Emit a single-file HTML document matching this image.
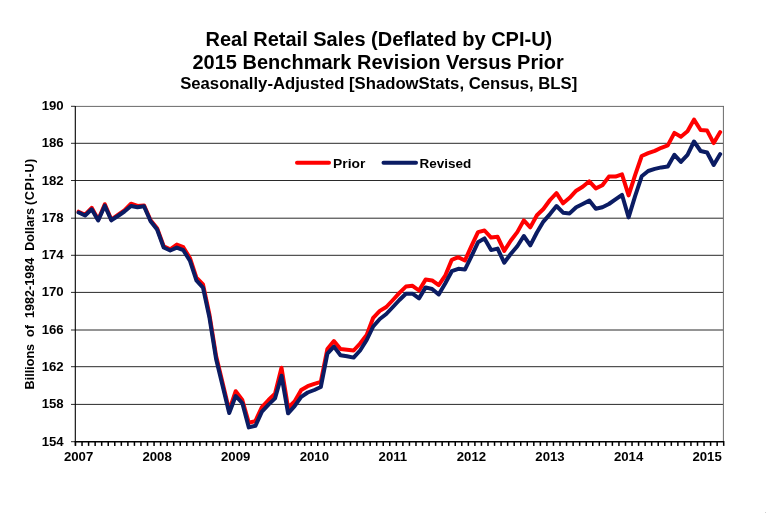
<!DOCTYPE html>
<html><head><meta charset="utf-8"><title>Real Retail Sales</title>
<style>
html,body{margin:0;padding:0;background:#fff;}
svg{display:block;}
text{font-family:"Liberation Sans",Arial,sans-serif;font-weight:bold;fill:#000;}
.t1{font-size:19.4px;}
.t2{font-size:16.2px;}
.lab{font-size:13.2px;}
.g{stroke:#2a2a2a;stroke-width:1;}
.b{stroke:#6e6e6e;stroke-width:1;shape-rendering:crispEdges;fill:none;}
.ax{stroke:#000;stroke-width:1;shape-rendering:crispEdges;}
.ln{fill:none;stroke-width:4;stroke-linejoin:round;stroke-linecap:round;}
</style></head>
<body>
<svg width="766" height="513" viewBox="0 0 766 513">
<rect x="0" y="0" width="766" height="513" fill="#fff"/>
<text x="205.45" y="45.9" class="t1" textLength="346.8" lengthAdjust="spacingAndGlyphs">Real Retail Sales (Deflated by CPI-U)</text>
<text x="192.5" y="69.0" class="t1" textLength="371.3" lengthAdjust="spacingAndGlyphs">2015 Benchmark Revision Versus Prior</text>
<text x="180.15" y="88.6" class="t2" textLength="397.1" lengthAdjust="spacingAndGlyphs">Seasonally-Adjusted [ShadowStats, Census, BLS]</text>
<g>
<line x1="71" y1="106.3" x2="75" y2="106.3" class="g"/>
<line x1="71" y1="143.3" x2="723" y2="143.3" class="g"/>
<line x1="71" y1="180.5" x2="723" y2="180.5" class="g"/>
<line x1="71" y1="218.2" x2="723" y2="218.2" class="g"/>
<line x1="71" y1="255.3" x2="723" y2="255.3" class="g"/>
<line x1="71" y1="292.4" x2="723" y2="292.4" class="g"/>
<line x1="71" y1="330.0" x2="723" y2="330.0" class="g"/>
<line x1="71" y1="366.7" x2="723" y2="366.7" class="g"/>
<line x1="71" y1="404.4" x2="723" y2="404.4" class="g"/>
<line x1="71" y1="441.7" x2="75" y2="441.7" class="g"/>
</g>
<line x1="75" y1="106.4" x2="724" y2="106.4" stroke="#6a6a6a" stroke-width="1"/>
<line x1="723.4" y1="106" x2="723.4" y2="442" stroke="#6a6a6a" stroke-width="1"/>
<line x1="75.3" y1="106" x2="75.3" y2="445.7" stroke="#000" stroke-width="1.1"/>
<line x1="74.8" y1="441.7" x2="724" y2="441.7" stroke="#000" stroke-width="1.5"/>
<g>
<line x1="75.50" y1="441" x2="75.50" y2="445.9" stroke="#000" stroke-width="1.5"/>
<line x1="82.05" y1="441" x2="82.05" y2="445.9" stroke="#000" stroke-width="1.5"/>
<line x1="88.59" y1="441" x2="88.59" y2="445.9" stroke="#000" stroke-width="1.5"/>
<line x1="95.14" y1="441" x2="95.14" y2="445.9" stroke="#000" stroke-width="1.5"/>
<line x1="101.69" y1="441" x2="101.69" y2="445.9" stroke="#000" stroke-width="1.5"/>
<line x1="108.24" y1="441" x2="108.24" y2="445.9" stroke="#000" stroke-width="1.5"/>
<line x1="114.78" y1="441" x2="114.78" y2="445.9" stroke="#000" stroke-width="1.5"/>
<line x1="121.33" y1="441" x2="121.33" y2="445.9" stroke="#000" stroke-width="1.5"/>
<line x1="127.88" y1="441" x2="127.88" y2="445.9" stroke="#000" stroke-width="1.5"/>
<line x1="134.43" y1="441" x2="134.43" y2="445.9" stroke="#000" stroke-width="1.5"/>
<line x1="140.97" y1="441" x2="140.97" y2="445.9" stroke="#000" stroke-width="1.5"/>
<line x1="147.52" y1="441" x2="147.52" y2="445.9" stroke="#000" stroke-width="1.5"/>
<line x1="154.07" y1="441" x2="154.07" y2="445.9" stroke="#000" stroke-width="1.5"/>
<line x1="160.62" y1="441" x2="160.62" y2="445.9" stroke="#000" stroke-width="1.5"/>
<line x1="167.16" y1="441" x2="167.16" y2="445.9" stroke="#000" stroke-width="1.5"/>
<line x1="173.71" y1="441" x2="173.71" y2="445.9" stroke="#000" stroke-width="1.5"/>
<line x1="180.26" y1="441" x2="180.26" y2="445.9" stroke="#000" stroke-width="1.5"/>
<line x1="186.81" y1="441" x2="186.81" y2="445.9" stroke="#000" stroke-width="1.5"/>
<line x1="193.35" y1="441" x2="193.35" y2="445.9" stroke="#000" stroke-width="1.5"/>
<line x1="199.90" y1="441" x2="199.90" y2="445.9" stroke="#000" stroke-width="1.5"/>
<line x1="206.45" y1="441" x2="206.45" y2="445.9" stroke="#000" stroke-width="1.5"/>
<line x1="213.00" y1="441" x2="213.00" y2="445.9" stroke="#000" stroke-width="1.5"/>
<line x1="219.54" y1="441" x2="219.54" y2="445.9" stroke="#000" stroke-width="1.5"/>
<line x1="226.09" y1="441" x2="226.09" y2="445.9" stroke="#000" stroke-width="1.5"/>
<line x1="232.64" y1="441" x2="232.64" y2="445.9" stroke="#000" stroke-width="1.5"/>
<line x1="239.19" y1="441" x2="239.19" y2="445.9" stroke="#000" stroke-width="1.5"/>
<line x1="245.73" y1="441" x2="245.73" y2="445.9" stroke="#000" stroke-width="1.5"/>
<line x1="252.28" y1="441" x2="252.28" y2="445.9" stroke="#000" stroke-width="1.5"/>
<line x1="258.83" y1="441" x2="258.83" y2="445.9" stroke="#000" stroke-width="1.5"/>
<line x1="265.38" y1="441" x2="265.38" y2="445.9" stroke="#000" stroke-width="1.5"/>
<line x1="271.92" y1="441" x2="271.92" y2="445.9" stroke="#000" stroke-width="1.5"/>
<line x1="278.47" y1="441" x2="278.47" y2="445.9" stroke="#000" stroke-width="1.5"/>
<line x1="285.02" y1="441" x2="285.02" y2="445.9" stroke="#000" stroke-width="1.5"/>
<line x1="291.57" y1="441" x2="291.57" y2="445.9" stroke="#000" stroke-width="1.5"/>
<line x1="298.11" y1="441" x2="298.11" y2="445.9" stroke="#000" stroke-width="1.5"/>
<line x1="304.66" y1="441" x2="304.66" y2="445.9" stroke="#000" stroke-width="1.5"/>
<line x1="311.21" y1="441" x2="311.21" y2="445.9" stroke="#000" stroke-width="1.5"/>
<line x1="317.76" y1="441" x2="317.76" y2="445.9" stroke="#000" stroke-width="1.5"/>
<line x1="324.30" y1="441" x2="324.30" y2="445.9" stroke="#000" stroke-width="1.5"/>
<line x1="330.85" y1="441" x2="330.85" y2="445.9" stroke="#000" stroke-width="1.5"/>
<line x1="337.40" y1="441" x2="337.40" y2="445.9" stroke="#000" stroke-width="1.5"/>
<line x1="343.95" y1="441" x2="343.95" y2="445.9" stroke="#000" stroke-width="1.5"/>
<line x1="350.49" y1="441" x2="350.49" y2="445.9" stroke="#000" stroke-width="1.5"/>
<line x1="357.04" y1="441" x2="357.04" y2="445.9" stroke="#000" stroke-width="1.5"/>
<line x1="363.59" y1="441" x2="363.59" y2="445.9" stroke="#000" stroke-width="1.5"/>
<line x1="370.14" y1="441" x2="370.14" y2="445.9" stroke="#000" stroke-width="1.5"/>
<line x1="376.68" y1="441" x2="376.68" y2="445.9" stroke="#000" stroke-width="1.5"/>
<line x1="383.23" y1="441" x2="383.23" y2="445.9" stroke="#000" stroke-width="1.5"/>
<line x1="389.78" y1="441" x2="389.78" y2="445.9" stroke="#000" stroke-width="1.5"/>
<line x1="396.33" y1="441" x2="396.33" y2="445.9" stroke="#000" stroke-width="1.5"/>
<line x1="402.87" y1="441" x2="402.87" y2="445.9" stroke="#000" stroke-width="1.5"/>
<line x1="409.42" y1="441" x2="409.42" y2="445.9" stroke="#000" stroke-width="1.5"/>
<line x1="415.97" y1="441" x2="415.97" y2="445.9" stroke="#000" stroke-width="1.5"/>
<line x1="422.52" y1="441" x2="422.52" y2="445.9" stroke="#000" stroke-width="1.5"/>
<line x1="429.06" y1="441" x2="429.06" y2="445.9" stroke="#000" stroke-width="1.5"/>
<line x1="435.61" y1="441" x2="435.61" y2="445.9" stroke="#000" stroke-width="1.5"/>
<line x1="442.16" y1="441" x2="442.16" y2="445.9" stroke="#000" stroke-width="1.5"/>
<line x1="448.71" y1="441" x2="448.71" y2="445.9" stroke="#000" stroke-width="1.5"/>
<line x1="455.25" y1="441" x2="455.25" y2="445.9" stroke="#000" stroke-width="1.5"/>
<line x1="461.80" y1="441" x2="461.80" y2="445.9" stroke="#000" stroke-width="1.5"/>
<line x1="468.35" y1="441" x2="468.35" y2="445.9" stroke="#000" stroke-width="1.5"/>
<line x1="474.90" y1="441" x2="474.90" y2="445.9" stroke="#000" stroke-width="1.5"/>
<line x1="481.44" y1="441" x2="481.44" y2="445.9" stroke="#000" stroke-width="1.5"/>
<line x1="487.99" y1="441" x2="487.99" y2="445.9" stroke="#000" stroke-width="1.5"/>
<line x1="494.54" y1="441" x2="494.54" y2="445.9" stroke="#000" stroke-width="1.5"/>
<line x1="501.09" y1="441" x2="501.09" y2="445.9" stroke="#000" stroke-width="1.5"/>
<line x1="507.63" y1="441" x2="507.63" y2="445.9" stroke="#000" stroke-width="1.5"/>
<line x1="514.18" y1="441" x2="514.18" y2="445.9" stroke="#000" stroke-width="1.5"/>
<line x1="520.73" y1="441" x2="520.73" y2="445.9" stroke="#000" stroke-width="1.5"/>
<line x1="527.28" y1="441" x2="527.28" y2="445.9" stroke="#000" stroke-width="1.5"/>
<line x1="533.82" y1="441" x2="533.82" y2="445.9" stroke="#000" stroke-width="1.5"/>
<line x1="540.37" y1="441" x2="540.37" y2="445.9" stroke="#000" stroke-width="1.5"/>
<line x1="546.92" y1="441" x2="546.92" y2="445.9" stroke="#000" stroke-width="1.5"/>
<line x1="553.47" y1="441" x2="553.47" y2="445.9" stroke="#000" stroke-width="1.5"/>
<line x1="560.01" y1="441" x2="560.01" y2="445.9" stroke="#000" stroke-width="1.5"/>
<line x1="566.56" y1="441" x2="566.56" y2="445.9" stroke="#000" stroke-width="1.5"/>
<line x1="573.11" y1="441" x2="573.11" y2="445.9" stroke="#000" stroke-width="1.5"/>
<line x1="579.66" y1="441" x2="579.66" y2="445.9" stroke="#000" stroke-width="1.5"/>
<line x1="586.20" y1="441" x2="586.20" y2="445.9" stroke="#000" stroke-width="1.5"/>
<line x1="592.75" y1="441" x2="592.75" y2="445.9" stroke="#000" stroke-width="1.5"/>
<line x1="599.30" y1="441" x2="599.30" y2="445.9" stroke="#000" stroke-width="1.5"/>
<line x1="605.85" y1="441" x2="605.85" y2="445.9" stroke="#000" stroke-width="1.5"/>
<line x1="612.39" y1="441" x2="612.39" y2="445.9" stroke="#000" stroke-width="1.5"/>
<line x1="618.94" y1="441" x2="618.94" y2="445.9" stroke="#000" stroke-width="1.5"/>
<line x1="625.49" y1="441" x2="625.49" y2="445.9" stroke="#000" stroke-width="1.5"/>
<line x1="632.04" y1="441" x2="632.04" y2="445.9" stroke="#000" stroke-width="1.5"/>
<line x1="638.58" y1="441" x2="638.58" y2="445.9" stroke="#000" stroke-width="1.5"/>
<line x1="645.13" y1="441" x2="645.13" y2="445.9" stroke="#000" stroke-width="1.5"/>
<line x1="651.68" y1="441" x2="651.68" y2="445.9" stroke="#000" stroke-width="1.5"/>
<line x1="658.23" y1="441" x2="658.23" y2="445.9" stroke="#000" stroke-width="1.5"/>
<line x1="664.77" y1="441" x2="664.77" y2="445.9" stroke="#000" stroke-width="1.5"/>
<line x1="671.32" y1="441" x2="671.32" y2="445.9" stroke="#000" stroke-width="1.5"/>
<line x1="677.87" y1="441" x2="677.87" y2="445.9" stroke="#000" stroke-width="1.5"/>
<line x1="684.42" y1="441" x2="684.42" y2="445.9" stroke="#000" stroke-width="1.5"/>
<line x1="690.96" y1="441" x2="690.96" y2="445.9" stroke="#000" stroke-width="1.5"/>
<line x1="697.51" y1="441" x2="697.51" y2="445.9" stroke="#000" stroke-width="1.5"/>
<line x1="704.06" y1="441" x2="704.06" y2="445.9" stroke="#000" stroke-width="1.5"/>
<line x1="710.61" y1="441" x2="710.61" y2="445.9" stroke="#000" stroke-width="1.5"/>
<line x1="717.15" y1="441" x2="717.15" y2="445.9" stroke="#000" stroke-width="1.5"/>
<line x1="723.70" y1="441" x2="723.70" y2="445.9" stroke="#000" stroke-width="1.5"/>
</g>
<g>
<text x="63.7" y="110.3" text-anchor="end" class="lab">190</text>
<text x="63.7" y="147.3" text-anchor="end" class="lab">186</text>
<text x="63.7" y="184.5" text-anchor="end" class="lab">182</text>
<text x="63.7" y="222.2" text-anchor="end" class="lab">178</text>
<text x="63.7" y="259.3" text-anchor="end" class="lab">174</text>
<text x="63.7" y="296.4" text-anchor="end" class="lab">170</text>
<text x="63.7" y="334.0" text-anchor="end" class="lab">166</text>
<text x="63.7" y="370.7" text-anchor="end" class="lab">162</text>
<text x="63.7" y="408.4" text-anchor="end" class="lab">158</text>
<text x="63.7" y="445.7" text-anchor="end" class="lab">154</text>
</g>
<g>
<text x="78.6" y="461" text-anchor="middle" class="lab">2007</text>
<text x="157.1" y="461" text-anchor="middle" class="lab">2008</text>
<text x="235.7" y="461" text-anchor="middle" class="lab">2009</text>
<text x="314.3" y="461" text-anchor="middle" class="lab">2010</text>
<text x="392.9" y="461" text-anchor="middle" class="lab">2011</text>
<text x="471.4" y="461" text-anchor="middle" class="lab">2012</text>
<text x="550.0" y="461" text-anchor="middle" class="lab">2013</text>
<text x="628.6" y="461" text-anchor="middle" class="lab">2014</text>
<text x="707.1" y="461" text-anchor="middle" class="lab">2015</text>
</g>
<text transform="translate(34,389.4) rotate(-90)" class="lab" style="font-size:12.6px;word-spacing:3.5px">Billions of 1982-1984 Dollars<tspan dx="-4.6" style="letter-spacing:0.62px"> (CPI-U)</tspan></text>
<polyline class="ln" stroke="#ff0000" points="78.6,211.7 85.1,214.7 91.7,207.8 98.2,219.8 104.8,204.2 111.3,219.6 117.9,215.0 124.4,210.3 131.0,203.7 137.5,205.9 144.0,205.4 150.6,220.3 157.1,228.3 163.7,246.3 170.2,249.3 176.8,244.6 183.3,247.2 189.9,258.0 196.4,277.6 203.0,284.5 209.5,315.0 216.1,356.0 222.6,383.0 229.2,410.5 235.7,391.2 242.3,400.0 248.8,422.7 255.4,421.1 261.9,407.0 268.5,400.0 275.0,393.7 281.5,367.8 288.1,407.8 294.6,401.5 301.2,390.0 307.7,386.2 314.3,383.8 320.8,381.8 327.4,349.0 333.9,341.1 340.5,349.0 347.0,349.8 353.6,350.5 360.1,343.5 366.7,335.0 373.2,317.8 379.8,310.9 386.3,307.0 392.9,300.0 399.4,292.9 405.9,286.6 412.5,285.8 419.0,290.5 425.6,279.6 432.1,280.4 438.7,285.1 445.2,275.7 451.8,259.8 458.3,257.2 464.9,260.5 471.4,246.2 478.0,232.1 484.5,230.5 491.1,237.6 497.6,236.8 504.2,250.9 510.7,240.7 517.3,232.1 523.8,220.4 530.3,227.4 536.9,215.3 543.4,209.0 550.0,200.0 556.5,193.1 563.1,203.3 569.6,197.8 576.2,190.7 582.7,186.8 589.3,181.3 595.8,188.4 602.4,185.2 608.9,176.6 615.5,176.6 622.0,174.3 628.6,195.4 635.1,175.1 641.7,156.0 648.2,153.2 654.8,150.9 661.3,147.8 667.8,145.4 674.4,132.9 680.9,136.8 687.5,131.3 694.0,119.6 700.6,130.0 707.1,130.6 713.7,143.1 720.2,132.1"/>
<polyline class="ln" stroke="#0b1c63" points="78.6,212.5 85.1,215.5 91.7,209.3 98.2,220.5 104.8,205.7 111.3,220.3 117.9,216.0 124.4,211.5 131.0,206.0 137.5,207.3 144.0,206.3 150.6,221.3 157.1,229.5 163.7,247.5 170.2,250.5 176.8,247.6 183.3,250.2 189.9,260.7 196.4,280.3 203.0,287.6 209.5,317.9 216.1,359.0 222.6,385.9 229.2,413.0 235.7,396.0 242.3,403.1 248.8,427.4 255.4,425.8 261.9,411.7 268.5,404.6 275.0,398.4 281.5,375.7 288.1,413.3 294.6,406.2 301.2,396.8 307.7,392.5 314.3,390.0 320.8,387.0 327.4,353.7 333.9,346.6 340.5,355.2 347.0,356.3 353.6,357.6 360.1,350.5 366.7,340.0 373.2,326.5 379.8,319.0 386.3,314.0 392.9,307.0 399.4,300.0 405.9,293.7 412.5,293.7 419.0,298.4 425.6,287.4 432.1,289.0 438.7,294.5 445.2,283.5 451.8,271.2 458.3,268.8 464.9,269.6 471.4,256.4 478.0,242.3 484.5,238.4 491.1,250.1 497.6,248.6 504.2,262.7 510.7,254.0 517.3,246.2 523.8,236.0 530.3,245.4 536.9,232.5 543.4,221.6 550.0,214.1 556.5,206.0 563.1,212.7 569.6,213.4 576.2,207.2 582.7,204.0 589.3,200.6 595.8,208.7 602.4,207.2 608.9,204.0 615.5,199.3 622.0,194.8 628.6,217.4 635.1,196.2 641.7,176.3 648.2,171.0 654.8,168.9 661.3,167.4 667.8,166.6 674.4,154.8 680.9,161.9 687.5,154.8 694.0,141.5 700.6,151.0 707.1,152.5 713.7,165.0 720.2,154.1"/>
<line x1="297" y1="162.8" x2="329" y2="162.8" class="ln" stroke="#ff0000"/>
<text x="333.1" y="167.7" class="lab" style="font-size:13.6px" textLength="32.3" lengthAdjust="spacingAndGlyphs">Prior</text>
<line x1="383.5" y1="162.8" x2="416" y2="162.8" class="ln" stroke="#0b1c63"/>
<text x="419.6" y="167.7" class="lab" style="font-size:13.6px" textLength="51.7" lengthAdjust="spacingAndGlyphs">Revised</text>
<rect x="765" y="512" width="1" height="1" fill="#cfcfcf"/>
</svg>
</body></html>
